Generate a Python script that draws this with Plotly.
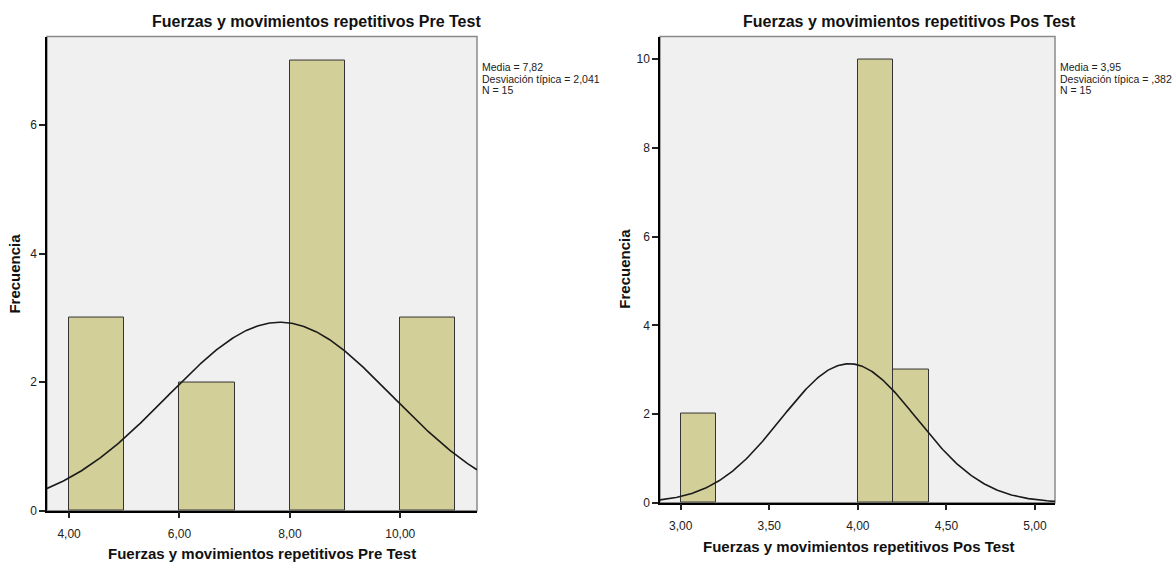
import numpy as np
import plotly.graph_objects as go

# Pre Test histogram (bin width 1)
pre_bin_left = [4.0, 6.0, 8.0, 10.0]
pre_counts = [3, 2, 7, 3]
pre_bin_width = 1.0
pre_mean, pre_sd, pre_n = 7.82, 2.041, 15

# Pos Test histogram (bin width 0.2)
pos_bin_left = [3.0, 4.0, 4.2]
pos_counts = [2, 10, 3]
pos_bin_width = 0.2
pos_mean, pos_sd, pos_n = 3.95, 0.382, 15

pre_xticks = [4, 6, 8, 10]
pre_yticks = [0, 2, 4, 6]
pos_xticks = [3.0, 3.5, 4.0, 4.5, 5.0]
pos_yticks = [0, 2, 4, 6, 8, 10]

W, H = 1173, 568
BAR = "#D3CF98"
BG = "#F0F0F0"
SANS = "Liberation Sans, Arial"


def px_x(p):
    return p / W


def px_y(p):
    return 1 - p / H


def normal_curve(mean, sd, n, bw, lo, hi):
    xs = np.linspace(lo, hi, 300)
    ys = n * bw / (sd * np.sqrt(2 * np.pi)) * np.exp(-0.5 * ((xs - mean) / sd) ** 2)
    return xs, ys


def fmt_dec(v, digits):
    s = f"{v:.{digits}f}"
    if s.startswith("0."):
        s = s[1:]
    return s.replace(".", ",")


pre_xrange = [3.6, 11.39]
pre_yrange = [0, 7.38]
pos_xrange = [2.883, 5.113]
pos_yrange = [0, 10.51]

fig = go.Figure()

fig.add_trace(go.Bar(
    x=[b + pre_bin_width / 2 for b in pre_bin_left], y=pre_counts, width=pre_bin_width,
    marker=dict(color=BAR, line=dict(color="#333333", width=1)),
    xaxis="x", yaxis="y", showlegend=False, hoverinfo="skip"))
cx, cy = normal_curve(pre_mean, pre_sd, pre_n, pre_bin_width, *pre_xrange)
fig.add_trace(go.Scatter(x=cx, y=cy, mode="lines", line=dict(color="#1a1a1a", width=1.6),
                         xaxis="x", yaxis="y", showlegend=False, hoverinfo="skip"))

fig.add_trace(go.Bar(
    x=[b + pos_bin_width / 2 for b in pos_bin_left], y=pos_counts, width=pos_bin_width,
    marker=dict(color=BAR, line=dict(color="#333333", width=1)),
    xaxis="x2", yaxis="y2", showlegend=False, hoverinfo="skip"))
cx2, cy2 = normal_curve(pos_mean, pos_sd, pos_n, pos_bin_width, *pos_xrange)
fig.add_trace(go.Scatter(x=cx2, y=cy2, mode="lines", line=dict(color="#1a1a1a", width=1.6),
                         xaxis="x2", yaxis="y2", showlegend=False, hoverinfo="skip"))

axis_common = dict(showgrid=False, zeroline=False, showline=True, linecolor="black",
                   linewidth=1.5, ticks="outside", ticklen=6, tickwidth=1.5,
                   tickcolor="#222222", tickfont=dict(family=SANS, size=12, color="#222222"))

fig.update_layout(
    width=W, height=H, margin=dict(l=0, r=0, t=0, b=0),
    paper_bgcolor="white", plot_bgcolor=BG, separators=",.", bargap=0,
    xaxis=dict(domain=[px_x(47), px_x(477)], range=pre_xrange, tickvals=pre_xticks,
               tickformat=".2f", anchor="y", ticklabelstandoff=5, **axis_common),
    yaxis=dict(domain=[px_y(517), px_y(37)], range=pre_yrange, tickvals=pre_yticks,
               anchor="x", **axis_common),
    xaxis2=dict(domain=[px_x(660), px_x(1055)], range=pos_xrange, tickvals=pos_xticks,
                tickformat=".2f", anchor="y2", ticklabelstandoff=5, **axis_common),
    yaxis2=dict(domain=[px_y(509), px_y(37)], range=pos_yrange, tickvals=pos_yticks,
                anchor="x2", **axis_common),
)

# gray frame around each plot area
for xr, yr in (("x domain", "y domain"), ("x2 domain", "y2 domain")):
    fig.add_shape(type="rect", xref=xr, yref=yr, x0=0, x1=1, y0=0, y1=1,
                  line=dict(color="#8a8a8a", width=1.5), layer="below")

title_font = dict(family=SANS, size=16, color="#111111")
axis_title_font = dict(family=SANS, size=15, color="#111111")
ytitle_font = dict(family=SANS, size=15, color="#111111")
stats_font = dict(family=SANS, size=10.5, color="#222222")

annotations = [
    dict(text="<b>Fuerzas y movimientos repetitivos Pre Test</b>", x=px_x(316), y=px_y(22),
         font=title_font),
    dict(text="<b>Fuerzas y movimientos repetitivos Pos Test</b>", x=px_x(909), y=px_y(22),
         font=title_font),
    dict(text="<b>Fuerzas y movimientos repetitivos Pre Test</b>", x=px_x(262), y=px_y(560),
         font=axis_title_font),
    dict(text="<b>Fuerzas y movimientos repetitivos Pos Test</b>", x=px_x(858), y=px_y(553),
         font=axis_title_font),
    dict(text="<b>Frecuencia</b>", x=px_x(15), y=px_y(277), textangle=-90, font=ytitle_font),
    dict(text="<b>Frecuencia</b>", x=px_x(625), y=px_y(272), textangle=-90, font=ytitle_font),
]

# summary statistics, one line per annotation
stats = [
    (480, [f"Media = {fmt_dec(pre_mean, 2)}",
           f"Desviación típica = {fmt_dec(pre_sd, 3)}",
           f"N = {pre_n}"]),
    (1058, [f"Media = {fmt_dec(pos_mean, 2)}",
            f"Desviación típica = {fmt_dec(pos_sd, 3)}",
            f"N = {pos_n}"]),
]
for x0, lines in stats:
    for i, line in enumerate(lines):
        annotations.append(dict(text=line, x=px_x(x0), y=px_y(68 + 11.5 * i),
                                xanchor="left", font=stats_font))

for a in annotations:
    a.setdefault("xanchor", "center")
    a.setdefault("yanchor", "middle")
    fig.add_annotation(xref="paper", yref="paper", showarrow=False, **a)

fig.write_html("out.html")
